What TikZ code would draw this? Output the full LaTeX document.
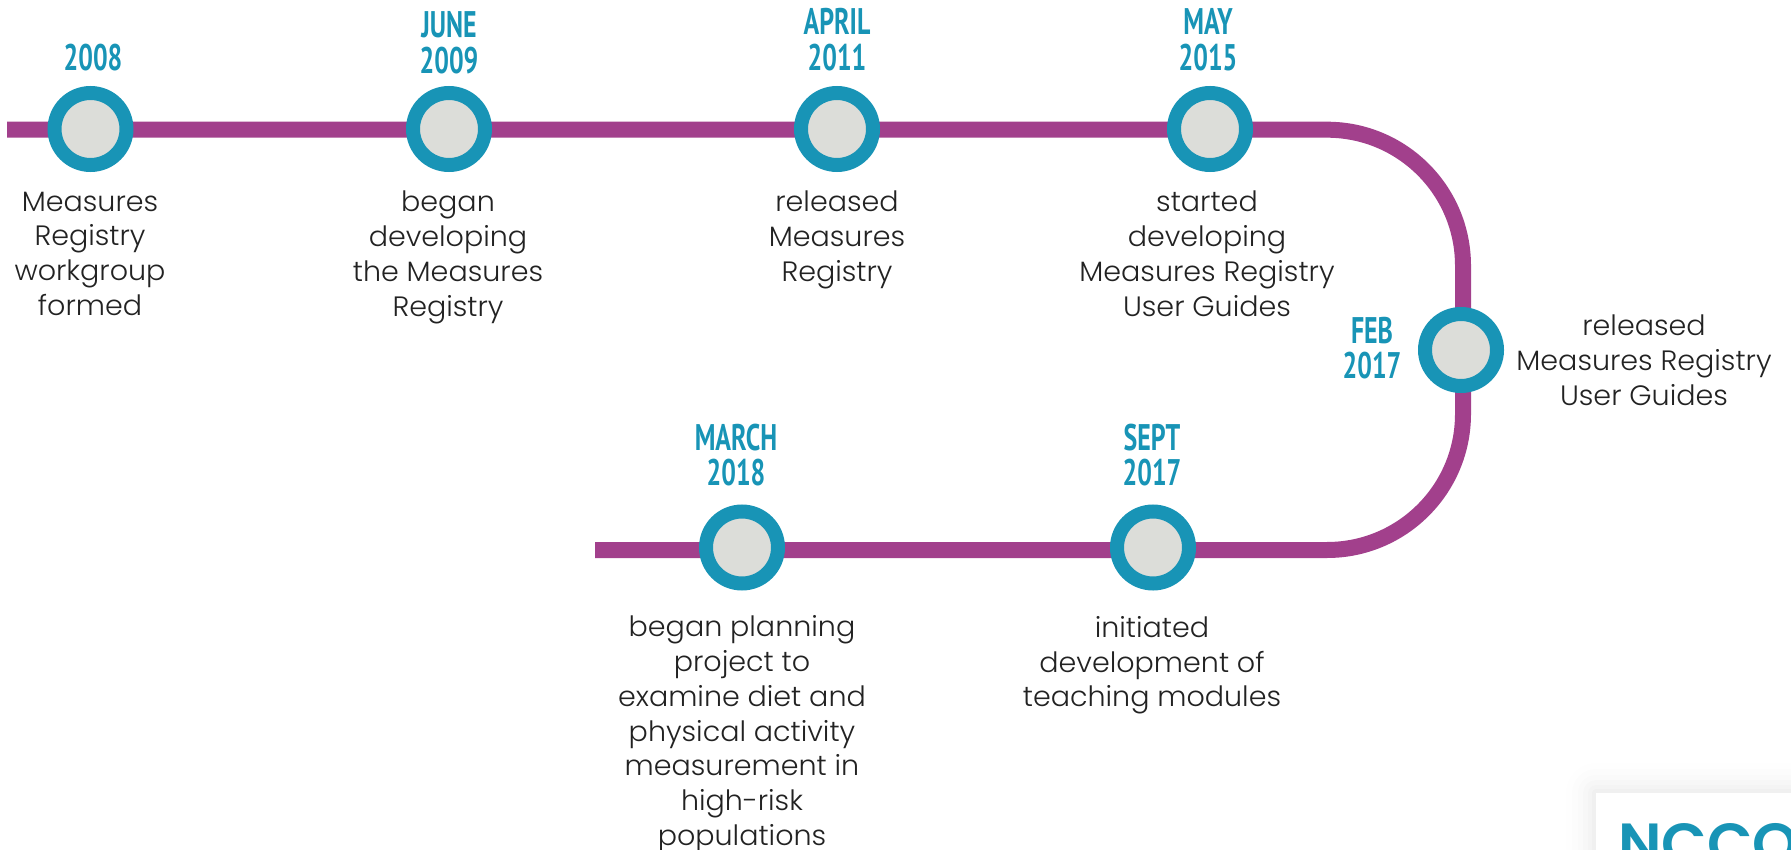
\documentclass[tikz,border=0pt]{standalone}
\usepackage{fontspec}
\usetikzlibrary{backgrounds}
\setmainfont{Poppins}[UprightFont=* Light,BoldFont=* SemiBold,FakeStretch=1.02]
\newfontfamily\datefont{PT Sans}[FakeStretch=0.70,BoldFont=* Bold]
\definecolor{trackcol}{HTML}{A2408C}
\definecolor{ringcol}{HTML}{1894B6}
\definecolor{corecol}{HTML}{DCDDD9}
\definecolor{bodycol}{HTML}{222222}
\newcommand{\toprule}{\rule{0pt}{20pt}}
\newcommand{\dateprop}{\rule{0pt}{28pt}}
\tikzset{
  x=1pt,y=-1pt,
  milestone/.style={circle,draw=ringcol,fill=corecol,line width=14pt,minimum size=72pt,inner sep=0pt},
  track/.style={draw=trackcol,line width=16pt},
  datelabel/.style={anchor=north,inner sep=0pt,align=center,text=ringcol,font={\datefont\bfseries\fontsize{37}{35.5}\selectfont}},
  bodylabel/.style={anchor=north,inner sep=0pt,align=center,text=bodycol,font={\fontsize{28}{34.8}\selectfont}},
}
\begin{document}
\begin{tikzpicture}
\useasboundingbox (0,0) rectangle (1791,850);
\clip (0,0) rectangle (1791,850);
\node[milestone] (m1) at (90.5,129) {};
\node[milestone] (m2) at (449,129) {};
\node[milestone] (m3) at (837,129) {};
\node[milestone] (m4) at (1210,129) {};
\node[milestone] (m5) at (1461,350) {};
\node[milestone] (m6) at (1153,547.5) {};
\node[milestone] (m7) at (742,547.5) {};
\coordinate (startpt) at (7,129.7);
\coordinate (endpt) at (595,550);
\coordinate (cornerA) at (1463,129.7);
\coordinate (cornerB) at (1463,550);
\begin{pgfonlayer}{background}
\draw[track] (startpt) -- (m1.center |- startpt) -- (m4.center |- startpt) [rounded corners=136pt] -- (cornerA) -- (cornerA |- m5.center);
\draw[track,rounded corners=136pt] (cornerA |- m5.center) -- (cornerB) -- (endpt);
\end{pgfonlayer}
\node[datelabel] (d1) at (93,42) {\dateprop 2008};
\node[datelabel] (d2) at (449,9.5) {\dateprop JUNE\\2009};
\node[datelabel] (d3) at (837,6.5) {\dateprop APRIL\\2011};
\node[datelabel] (d4) at (1208,6.5) {\dateprop MAY\\2015};
\node[datelabel] (d5) at (1372,315) {\dateprop FEB\\2017};
\node[datelabel] (d6) at (1152,422) {\dateprop SEPT\\2017};
\node[datelabel] (d7) at (736,422) {\dateprop MARCH\\2018};
\node[bodylabel] (t1) at (90,191) {\toprule Measures\\Registry\\workgroup\\formed};
\node[bodylabel] (t2) at (448,191) {\toprule began\\developing\\the Measures\\Registry};
\node[bodylabel] (t3) at (837,191) {\toprule released\\Measures\\Registry};
\node[bodylabel] (t4) at (1207,191) {\toprule started\\developing\\Measures Registry\\User Guides};
\node[bodylabel] (t5) at (1644,314.5) {\toprule released\\Measures Registry\\User Guides};
\node[bodylabel] (t6) at (1152,616) {\toprule initiated\\development of\\teaching modules};
\node[bodylabel] (t7) at (742,615.5) {\toprule began planning\\project to\\examine diet and\\physical activity\\measurement in\\high-risk\\populations};
\foreach \g/\o in {30/.004,24/.006,18/.008,13/.01,8/.012,4/.014}
  \fill[black,opacity=\o,rounded corners=\g pt] (1596-\g,793-\g) rectangle (1900,900);
\node[fill=white,anchor=north west,minimum width=200pt,minimum height=60pt,inner sep=0pt] (box) at (1596,793) {};
\node[anchor=base west,inner sep=0pt,text=ringcol,font={\bfseries\fontsize{58}{58}\selectfont}] (logo) at (1618,864) {NCCOR};
\end{tikzpicture}
\end{document}
